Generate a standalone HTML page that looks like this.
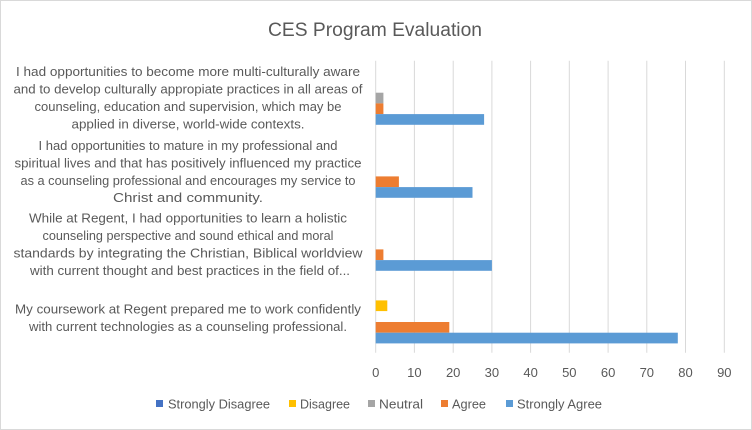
<!DOCTYPE html>
<html><head><meta charset="utf-8"><style>
html,body{margin:0;padding:0;background:#fff;}
svg{display:block;font-family:"Liberation Sans",sans-serif;}
</style></head><body>
<svg width="752" height="430" xmlns="http://www.w3.org/2000/svg">
<rect x="0.5" y="0.5" width="751" height="429" fill="#fff" stroke="#d9d9d9"/>
<text x="375" y="36" text-anchor="middle" font-size="19" fill="#595959" textLength="214" lengthAdjust="spacingAndGlyphs">CES Program Evaluation</text>
<g stroke="#d9d9d9" stroke-width="1">
<line x1="375.7" y1="60.7" x2="375.7" y2="352.7"/>
<line x1="414.4" y1="60.7" x2="414.4" y2="352.7"/>
<line x1="453.2" y1="60.7" x2="453.2" y2="352.7"/>
<line x1="491.9" y1="60.7" x2="491.9" y2="352.7"/>
<line x1="530.6" y1="60.7" x2="530.6" y2="352.7"/>
<line x1="569.3" y1="60.7" x2="569.3" y2="352.7"/>
<line x1="608.1" y1="60.7" x2="608.1" y2="352.7"/>
<line x1="646.8" y1="60.7" x2="646.8" y2="352.7"/>
<line x1="685.5" y1="60.7" x2="685.5" y2="352.7"/>
<line x1="724.3" y1="60.7" x2="724.3" y2="352.7"/>
</g>
<!-- group 1 top: 60.7 -->
<rect x="375.7" y="92.7" width="7.7" height="10.7" fill="#a5a5a5"/>
<rect x="375.7" y="103.4" width="7.7" height="10.7" fill="#ed7d31"/>
<rect x="375.7" y="114.1" width="108.4" height="10.7" fill="#5b9bd5"/>
<!-- group 2 -->
<rect x="375.7" y="176.4" width="23.2" height="10.7" fill="#ed7d31"/>
<rect x="375.7" y="187.1" width="96.8" height="10.7" fill="#5b9bd5"/>
<!-- group 3 -->
<rect x="375.7" y="249.4" width="7.7" height="10.7" fill="#ed7d31"/>
<rect x="375.7" y="260.1" width="116.2" height="10.7" fill="#5b9bd5"/>
<!-- group 4 -->
<rect x="375.7" y="300.4" width="11.6" height="10.7" fill="#ffc000"/>
<rect x="375.7" y="322.0" width="73.6" height="10.7" fill="#ed7d31"/>
<rect x="375.7" y="332.7" width="302.1" height="10.7" fill="#5b9bd5"/>
<g font-size="13" fill="#595959" text-anchor="middle">
<text x="375.7" y="377">0</text><text x="414.4" y="377">10</text><text x="453.2" y="377">20</text><text x="491.9" y="377">30</text><text x="530.6" y="377">40</text><text x="569.3" y="377">50</text><text x="608.1" y="377">60</text><text x="646.8" y="377">70</text><text x="685.5" y="377">80</text><text x="724.3" y="377">90</text>
</g>
<g font-size="13" fill="#595959" text-anchor="middle" lengthAdjust="spacingAndGlyphs">
<text x="188" y="76" textLength="344" lengthAdjust="spacingAndGlyphs">I had opportunities to become more multi-culturally aware</text>
<text x="188" y="93.5" textLength="349" lengthAdjust="spacingAndGlyphs">and to develop culturally appropiate practices in all areas of</text>
<text x="188" y="111" textLength="307" lengthAdjust="spacingAndGlyphs">counseling, education and supervision, which may be</text>
<text x="188" y="128.5" textLength="233" lengthAdjust="spacingAndGlyphs">applied in diverse, world-wide contexts.</text>
<text x="188" y="150" textLength="299" lengthAdjust="spacingAndGlyphs">I had opportunities to mature in my professional and</text>
<text x="188" y="167.5" textLength="347" lengthAdjust="spacingAndGlyphs">spiritual lives and that has positively influenced my practice</text>
<text x="188" y="185" textLength="335" lengthAdjust="spacingAndGlyphs">as a counseling professional and encourages my service to</text>
<text x="188" y="202" textLength="150" lengthAdjust="spacingAndGlyphs">Christ and community.</text>
<text x="188" y="222.5" textLength="318" lengthAdjust="spacingAndGlyphs">While at Regent, I had opportunities to learn a holistic</text>
<text x="188" y="240" textLength="291" lengthAdjust="spacingAndGlyphs">counseling perspective and sound ethical and moral</text>
<text x="188" y="257.5" textLength="349" lengthAdjust="spacingAndGlyphs">standards by integrating the Christian, Biblical worldview</text>
<text x="190" y="275" textLength="320" lengthAdjust="spacingAndGlyphs">with current thought and best practices in the field of...</text>
<text x="188" y="313.5" textLength="346" lengthAdjust="spacingAndGlyphs">My coursework at Regent prepared me to work confidently</text>
<text x="188" y="331" textLength="318" lengthAdjust="spacingAndGlyphs">with current technologies as a counseling professional.</text>
</g>
<g font-size="13" fill="#595959">
<rect x="156" y="400" width="7" height="7" fill="#4472c4"/><text x="168" y="408.5" textLength="102" lengthAdjust="spacingAndGlyphs">Strongly Disagree</text>
<rect x="289" y="400" width="7" height="7" fill="#ffc000"/><text x="300" y="408.5" textLength="50" lengthAdjust="spacingAndGlyphs">Disagree</text>
<rect x="368" y="400" width="7" height="7" fill="#a5a5a5"/><text x="379" y="408.5" textLength="44" lengthAdjust="spacingAndGlyphs">Neutral</text>
<rect x="441" y="400" width="7" height="7" fill="#ed7d31"/><text x="452" y="408.5" textLength="34" lengthAdjust="spacingAndGlyphs">Agree</text>
<rect x="506" y="400" width="7" height="7" fill="#5b9bd5"/><text x="517" y="408.5" textLength="85" lengthAdjust="spacingAndGlyphs">Strongly Agree</text>
</g>
</svg>
</body></html>
